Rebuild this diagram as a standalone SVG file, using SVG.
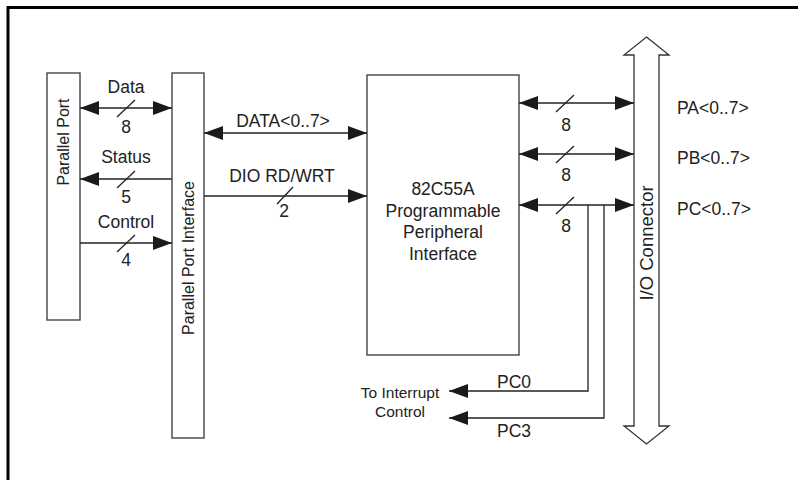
<svg xmlns="http://www.w3.org/2000/svg" width="798" height="480" viewBox="0 0 798 480">
<defs>
<marker id="ah" markerUnits="userSpaceOnUse" markerWidth="19" markerHeight="14" refX="19" refY="7" orient="auto-start-reverse" viewBox="0 0 19 14">
<path d="M0,0 L19,7 L0,14 z" fill="#1a1a1a"/>
</marker>
<style>
.box{fill:#fff;stroke:#444;stroke-width:1.4}
.ln{fill:none;stroke:#222;stroke-width:1.3}
.ar{marker-end:url(#ah)}
.ar2{marker-start:url(#ah);marker-end:url(#ah)}
.t{font-family:"Liberation Sans",Arial,sans-serif;font-size:17.5px;fill:#222}
.m{text-anchor:middle}
.s{font-size:15.5px}
</style>
</defs>
<rect width="798" height="480" fill="#fff"/>
<path d="M8,480 V7.5 H798" fill="none" stroke="#000" stroke-width="3"/>

<g id="parallel-port">
<rect class="box" x="47" y="73" width="33" height="247"/>
<text class="t m" transform="translate(69,142) rotate(-90)" style="font-size:16px">Parallel Port</text>
</g>
<g id="parallel-port-interface">
<rect class="box" x="172" y="73" width="32" height="365"/>
<text class="t m" transform="translate(194,258) rotate(-90)" style="font-size:16px">Parallel Port Interface</text>
</g>
<g id="ppi-82c55a">
<rect class="box" x="367" y="75" width="152" height="280"/>
<text class="t m" x="443" y="195">82C55A</text>
<text class="t m" x="443" y="216.5">Programmable</text>
<text class="t m" x="443" y="238">Peripheral</text>
<text class="t m" x="443" y="259.5">Interface</text>
</g>
<g id="io-connector">
<polygon points="646.5,37 669,55 659,55 659,426 669,426 646.5,444 624,426 634,426 634,55 624,55" fill="#fff" stroke="#333" stroke-width="1.3"/>
<text class="t m" transform="translate(653,243) rotate(-90)" style="font-size:18.5px">I/O Connector</text>
</g>
<g id="interrupt-control">
<text class="t m s" x="400" y="398">To Interrupt</text>
<text class="t m s" x="400" y="417">Control</text>
</g>

<g id="connectors">
<line class="ln ar2" x1="80" y1="108" x2="172" y2="108"/>
<line class="ln" x1="117" y1="117" x2="135" y2="100"/>
<text class="t m" x="126" y="93">Data</text>
<text class="t m" x="126" y="133">8</text>

<line class="ln ar" x1="172" y1="179" x2="80" y2="179"/>
<line class="ln" x1="117" y1="188" x2="135" y2="171"/>
<text class="t m" x="126" y="163">Status</text>
<text class="t m" x="126" y="203">5</text>

<line class="ln ar" x1="80" y1="243" x2="172" y2="243"/>
<line class="ln" x1="117" y1="252" x2="135" y2="235"/>
<text class="t m" x="126" y="228">Control</text>
<text class="t m" x="126" y="266">4</text>

<line class="ln ar2" x1="204" y1="133" x2="367" y2="133"/>
<text class="t m" x="283" y="127">DATA&lt;0..7&gt;</text>

<line class="ln ar" x1="204" y1="196" x2="367" y2="196"/>
<line class="ln" x1="277" y1="204" x2="293" y2="187"/>
<text class="t m" x="282" y="182">DIO RD/WRT</text>
<text class="t m" x="284" y="217">2</text>

<line class="ln ar2" x1="519" y1="103" x2="634" y2="103"/>
<line class="ln" x1="556" y1="112" x2="574" y2="95"/>
<text class="t m" x="566" y="131">8</text>
<text class="t" x="677" y="114">PA&lt;0..7&gt;</text>

<line class="ln ar2" x1="519" y1="154" x2="634" y2="154"/>
<line class="ln" x1="556" y1="163" x2="574" y2="146"/>
<text class="t m" x="566" y="181">8</text>
<text class="t" x="677" y="164">PB&lt;0..7&gt;</text>

<line class="ln ar2" x1="519" y1="205" x2="634" y2="205"/>
<line class="ln" x1="556" y1="214" x2="574" y2="197"/>
<text class="t m" x="566" y="232">8</text>
<text class="t" x="677" y="215">PC&lt;0..7&gt;</text>

<polyline class="ln ar" points="588,205 588,391 449,391"/>
<polyline class="ln ar" points="604,205 604,418 449,418"/>
<text class="t" x="497" y="388">PC0</text>
<text class="t" x="497" y="437">PC3</text>
</g>
</svg>
